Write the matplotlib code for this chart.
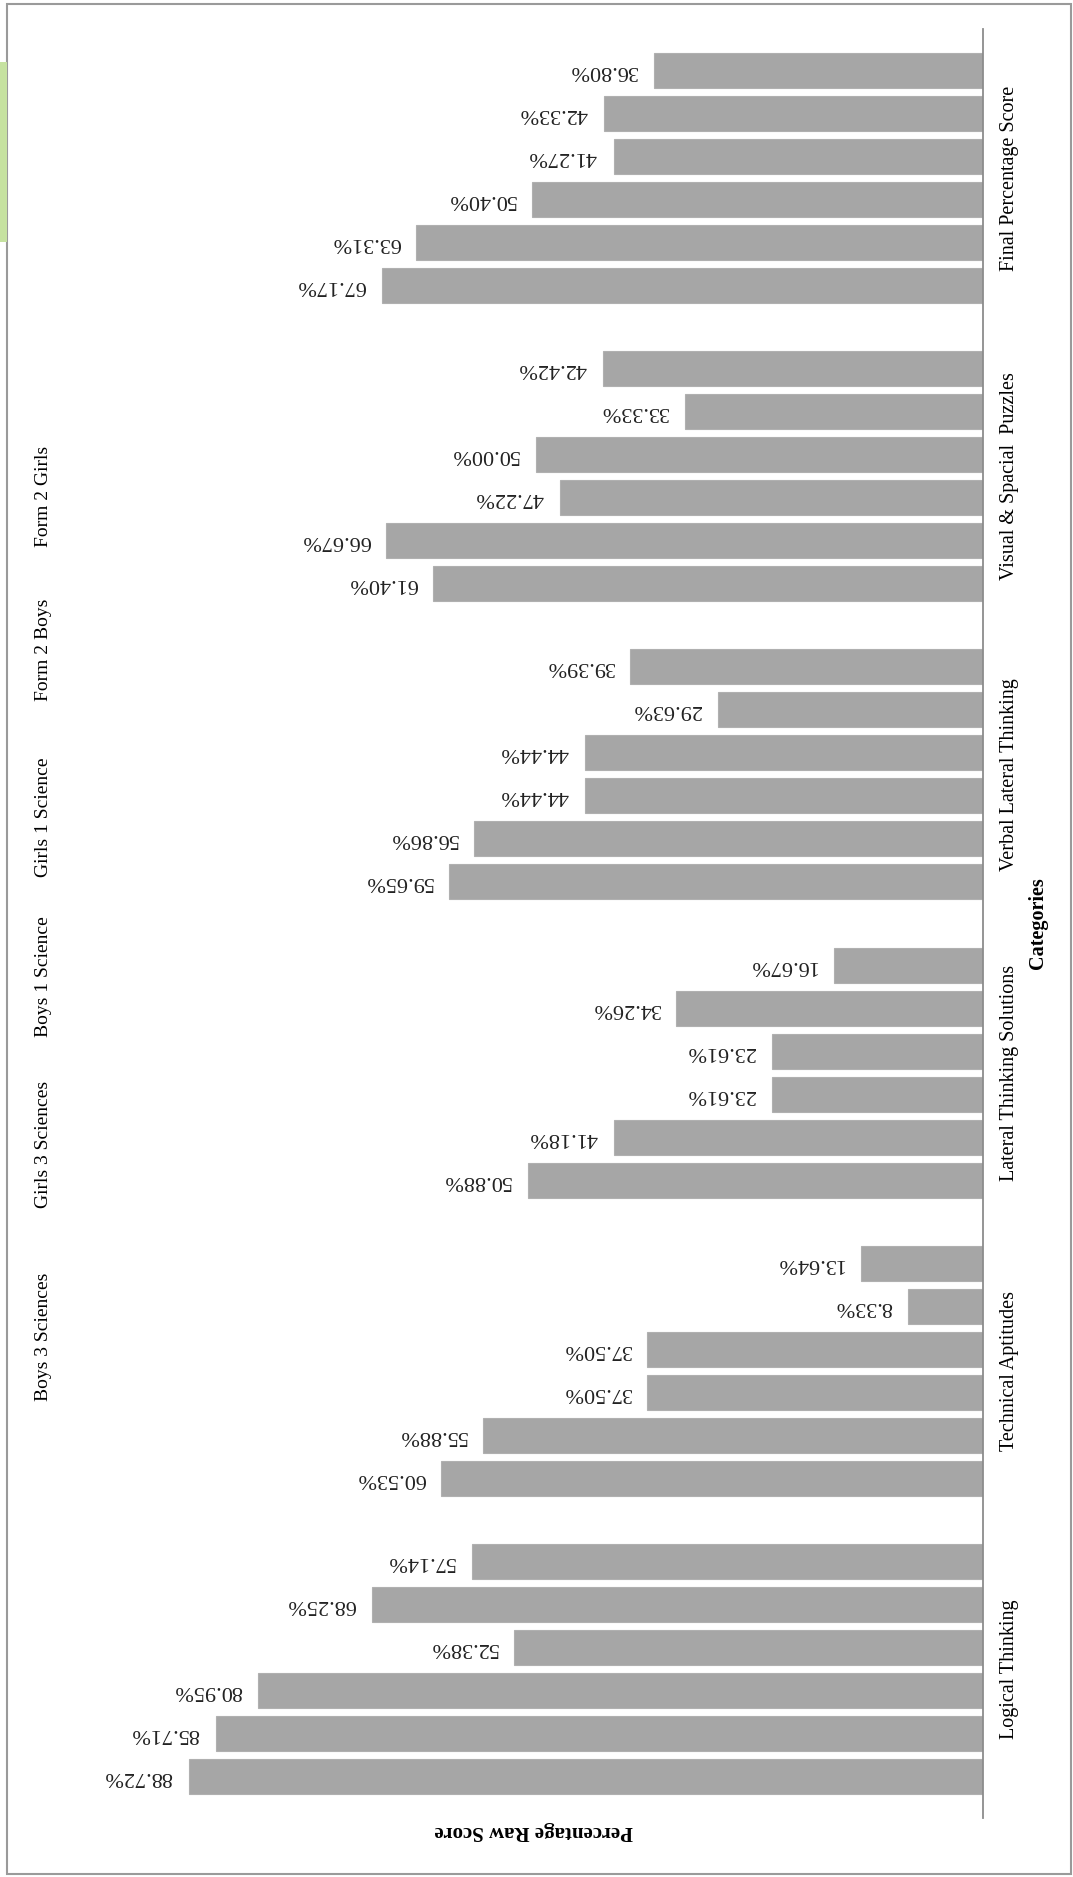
import numpy as np
import matplotlib
matplotlib.use("Agg")
import matplotlib.pyplot as plt
from matplotlib.patches import Rectangle

plt.rcParams['font.family'] = 'serif'
plt.rcParams['font.serif'] = ['Liberation Serif', 'DejaVu Serif']

categories = ["Logical Thinking", "Technical Aptitudes", "Lateral Thinking Solutions",
              "Verbal Lateral Thinking", "Visual & Spacial  Puzzles", "Final Percentage Score"]
series = ["Boys 3 Sciences", "Girls 3 Sciences", "Boys 1 Science",
          "Girls 1 Science", "Form 2 Boys", "Form 2 Girls"]

boys3 = [88.72, 60.53, 50.88, 59.65, 61.40, 67.17]
girls3 = [85.71, 55.88, 41.18, 56.86, 66.67, 63.31]
boys1 = [80.95, 37.50, 23.61, 44.44, 47.22, 50.40]
girls1 = [52.38, 37.50, 23.61, 44.44, 50.00, 41.27]
form2boys = [68.25, 8.33, 34.26, 29.63, 33.33, 42.33]
form2girls = [57.14, 13.64, 16.67, 39.39, 42.42, 36.80]
values = [boys3, girls3, boys1, girls1, form2boys, form2girls]

W, H = 1073, 1877
fig = plt.figure(figsize=(W / 100, H / 100), dpi=100)

# plot area in pixels (the chart is drawn turned a quarter turn)
left, right, top, bottom = 88, 983, 29, 1818
ax = fig.add_axes((left / W, 1 - bottom / H, (right - left) / W, (bottom - top) / H))

bar_color = '#a6a6a6'
pitch = 0.1442
height = 0.117
pos = np.arange(len(categories)) + 0.5
for i, vals in enumerate(values):
    y = pos + (i - 2.5) * pitch
    ax.barh(y, vals, height=height, color=bar_color, edgecolor='#b0b0b0', linewidth=0.8)
    for yy, v in zip(y, vals):
        ax.annotate('{0:.2f}%'.format(v), (v, yy), xytext=(-12, 0), textcoords='offset points',
                    rotation=180, rotation_mode='anchor', ha='left', va='center',
                    fontsize=16, color='#222222')

ax.set_xlim(100, 0)
ax.set_ylim(0, len(categories))
for s in ['top', 'bottom', 'left']:
    ax.spines[s].set_visible(False)
ax.spines['right'].set_color('#8c8c8c')
ax.spines['right'].set_linewidth(1.3)
ax.set_xticks([])
ax.yaxis.tick_right()
ax.set_yticks(pos)
ax.set_yticklabels(categories, rotation=90, fontsize=14.5, va='center', ha='left')
ax.tick_params(axis='y', length=0, pad=12)

# axis titles
fig.text(1038 / W, 1 - 923 / H, 'Categories', rotation=90, ha='center', va='center',
         fontsize=14.5, fontweight='bold')
fig.text(534 / W, 1 - 1831 / H, 'Percentage Raw Score', rotation=180, ha='center', va='center',
         fontsize=15, fontweight='bold')

# legend entries (text only), centres in pixels from the top
legend_y = [1337, 1144, 977, 817, 650, 496]
for name, yc in zip(series, legend_y):
    fig.text(43 / W, 1 - yc / H, name, rotation=90, ha='center', va='center', fontsize=14)

# outer border and the cut-off green box at the left edge
fig.patches.append(Rectangle((7 / W, 3 / H), (1071 - 7) / W, (1873 - 3) / H, transform=fig.transFigure,
                             fill=False, edgecolor='#9a9a9a', linewidth=1.5))
fig.patches.append(Rectangle((0, 1 - 242 / H), 7 / W, 180 / H, transform=fig.transFigure,
                             facecolor='#c6e2a0', edgecolor='none'))

fig.savefig('out.png', dpi=100)
